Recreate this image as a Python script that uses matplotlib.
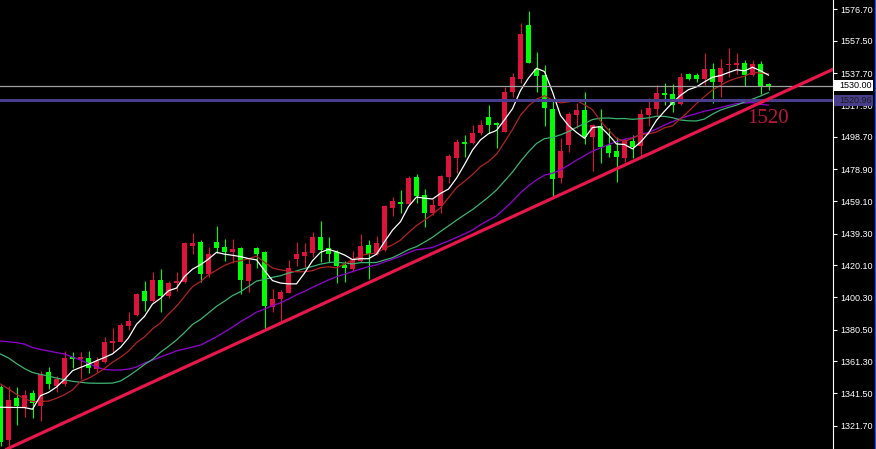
import matplotlib
matplotlib.use("Agg")
import matplotlib.pyplot as plt
import matplotlib.transforms as mtransforms
from matplotlib.patches import Rectangle
from matplotlib.lines import Line2D
import numpy as np

# ---- price data (one row per bar) ----
opens = [1345.6, 1312.9, 1338.8, 1333.0, 1341.6, 1333.8, 1354.6, 1346.0, 1347.3, 1363.4,
         1362.8, 1363.0, 1356.2, 1361.0, 1372.6, 1373.2, 1382.9, 1389.5, 1404.2, 1398.1,
         1411.0, 1401.4, 1409.3, 1409.9, 1432.0, 1434.4, 1414.6, 1434.3, 1431.4, 1427.9,
         1430.4, 1410.4, 1430.4, 1428.3, 1394.6, 1399.3, 1403.2, 1423.6, 1425.5, 1427.3,
         1437.5, 1430.4, 1427.9, 1420.2, 1417.7, 1422.6, 1432.4, 1426.9, 1429.3, 1455.3,
         1458.6, 1457.8, 1474.2, 1463.0, 1451.8, 1456.3, 1474.3, 1485.9, 1495.7, 1494.7,
         1500.9, 1510.8, 1507.0, 1501.9, 1526.3, 1534.1, 1567.2, 1540.0, 1536.6, 1515.7,
         1473.6, 1493.7, 1512.1, 1515.1, 1498.8, 1505.5, 1493.7, 1489.9, 1485.6, 1496.2,
         1493.1, 1512.1, 1515.7, 1525.7, 1524.9, 1518.8, 1537.0, 1536.6, 1534.1, 1540.0,
         1532.4, 1542.7, 1542.9, 1543.7, 1536.6, 1543.3, 1530.6]
highs = [1346.5, 1346.0, 1345.2, 1343.6, 1343.6, 1355.2, 1357.5, 1352.1, 1367.5, 1366.9,
         1366.7, 1367.5, 1364.0, 1376.2, 1381.8, 1384.9, 1391.2, 1403.2, 1410.4, 1416.0,
         1417.7, 1410.5, 1416.0, 1434.4, 1440.0, 1435.5, 1431.3, 1444.0, 1436.3, 1435.9,
         1431.0, 1423.8, 1431.3, 1429.0, 1405.3, 1404.8, 1423.0, 1434.0, 1433.5, 1440.2,
         1447.1, 1437.1, 1429.3, 1422.5, 1428.9, 1439.1, 1435.5, 1437.9, 1457.0, 1461.8,
         1465.9, 1474.8, 1475.9, 1466.6, 1460.3, 1475.3, 1488.0, 1497.4, 1499.7, 1505.9,
         1509.0, 1518.2, 1508.0, 1529.0, 1537.9, 1568.6, 1575.8, 1550.8, 1542.7, 1521.3,
         1498.2, 1514.1, 1519.4, 1526.1, 1506.4, 1515.7, 1504.1, 1498.8, 1497.8, 1499.7,
         1515.6, 1522.3, 1530.5, 1531.7, 1531.0, 1537.9, 1537.6, 1537.9, 1550.2, 1543.7,
         1546.2, 1552.9, 1549.9, 1545.8, 1545.8, 1545.3, 1531.4]
lows = [1309.5, 1308.0, 1322.1, 1327.2, 1326.2, 1324.5, 1344.2, 1342.5, 1346.2, 1357.2,
        1350.3, 1353.8, 1354.6, 1360.3, 1366.1, 1372.8, 1380.3, 1389.1, 1392.2, 1397.7,
        1391.6, 1400.1, 1404.2, 1408.9, 1426.8, 1409.9, 1412.5, 1427.3, 1422.6, 1421.6,
        1402.2, 1403.8, 1418.1, 1380.8, 1391.6, 1386.0, 1403.0, 1419.6, 1419.2, 1425.3,
        1422.2, 1422.2, 1409.3, 1409.9, 1415.6, 1422.0, 1411.6, 1426.3, 1428.9, 1450.2,
        1452.0, 1457.5, 1458.3, 1443.6, 1450.8, 1451.8, 1470.6, 1476.7, 1486.5, 1494.4,
        1499.8, 1500.9, 1492.1, 1501.5, 1523.3, 1531.5, 1543.8, 1526.3, 1505.3, 1461.8,
        1470.2, 1489.2, 1503.9, 1494.5, 1477.8, 1482.5, 1486.5, 1471.2, 1483.1, 1485.6,
        1486.7, 1505.5, 1512.1, 1518.2, 1514.1, 1518.2, 1533.5, 1532.4, 1530.4, 1519.2,
        1523.3, 1535.5, 1537.2, 1530.0, 1535.9, 1524.9, 1527.2]
closes = [1311.9, 1337.4, 1333.8, 1340.5, 1335.4, 1353.4, 1347.5, 1350.1, 1363.4, 1362.6,
          1363.4, 1356.9, 1361.3, 1373.2, 1373.8, 1383.5, 1385.9, 1402.4, 1398.1, 1411.0,
          1401.2, 1409.3, 1410.4, 1433.5, 1433.8, 1414.6, 1426.9, 1430.8, 1427.9, 1430.1,
          1411.0, 1420.8, 1426.9, 1395.0, 1399.3, 1403.6, 1418.1, 1426.9, 1427.9, 1437.5,
          1429.3, 1426.9, 1419.8, 1418.1, 1423.6, 1431.8, 1426.9, 1433.5, 1456.0, 1459.4,
          1457.7, 1473.6, 1462.5, 1452.2, 1456.9, 1474.7, 1487.1, 1495.7, 1494.1, 1501.2,
          1505.9, 1506.1, 1505.8, 1526.3, 1535.5, 1561.7, 1544.1, 1536.1, 1516.2, 1472.8,
          1490.0, 1512.7, 1515.1, 1498.4, 1505.8, 1492.3, 1488.6, 1486.4, 1496.8, 1492.3,
          1512.7, 1516.6, 1525.7, 1524.6, 1518.2, 1535.5, 1534.1, 1534.1, 1540.0, 1532.4,
          1540.6, 1543.3, 1543.7, 1536.6, 1543.3, 1530.0, 1530.0]

# ---- moving-average indicator values per bar ----
ma5 = [1333.0, 1332.9, 1332.9, 1332.8, 1331.8, 1340.1, 1342.1, 1345.4, 1350.0, 1355.4,
       1357.4, 1359.3, 1361.5, 1363.5, 1365.7, 1369.7, 1375.5, 1383.8, 1388.7, 1396.2,
       1399.7, 1404.4, 1406.0, 1413.1, 1417.6, 1420.3, 1423.8, 1427.9, 1426.8, 1426.1,
       1425.3, 1424.1, 1423.3, 1416.8, 1410.6, 1409.1, 1408.6, 1408.6, 1415.2, 1422.8,
       1427.9, 1429.7, 1428.3, 1426.3, 1423.5, 1424.0, 1424.0, 1426.8, 1434.4, 1441.5,
       1446.7, 1456.0, 1461.8, 1461.1, 1460.6, 1464.0, 1466.7, 1473.3, 1481.7, 1490.6,
       1496.8, 1500.6, 1502.6, 1509.1, 1515.9, 1527.1, 1534.7, 1540.7, 1538.7, 1526.2,
       1511.8, 1505.6, 1501.4, 1497.8, 1504.4, 1504.9, 1500.0, 1494.3, 1494.0, 1491.3,
       1495.4, 1501.0, 1508.8, 1514.4, 1519.6, 1524.1, 1527.6, 1529.3, 1532.4, 1535.2,
       1536.2, 1538.1, 1539.8, 1539.1, 1541.3, 1539.2, 1536.5]
ma10 = [1347.2, 1344.3, 1340.9, 1338.2, 1336.5, 1336.5, 1336.8, 1338.5, 1340.7, 1343.6,
        1348.8, 1350.7, 1353.5, 1356.7, 1360.6, 1363.6, 1367.4, 1372.6, 1376.1, 1381.0,
        1384.7, 1390.0, 1394.9, 1400.9, 1406.9, 1410.0, 1414.1, 1417.0, 1419.9, 1421.9,
        1422.8, 1424.0, 1425.6, 1421.8, 1418.3, 1417.2, 1416.4, 1416.0, 1416.0, 1416.7,
        1418.5, 1419.1, 1418.4, 1420.7, 1423.2, 1426.0, 1426.9, 1427.5, 1430.3, 1432.5,
        1435.4, 1440.0, 1444.3, 1447.7, 1451.1, 1455.3, 1461.4, 1467.6, 1471.4, 1475.6,
        1480.4, 1483.6, 1488.0, 1495.4, 1503.2, 1511.9, 1517.6, 1521.7, 1523.9, 1521.1,
        1519.5, 1520.1, 1521.1, 1518.3, 1515.3, 1508.4, 1502.8, 1497.8, 1495.9, 1497.8,
        1500.1, 1500.5, 1501.6, 1504.2, 1505.4, 1509.7, 1514.3, 1519.1, 1523.4, 1527.4,
        1530.2, 1532.9, 1534.6, 1535.8, 1538.3, 1537.7, 1537.3]
ma20 = [1365.6, 1363.2, 1359.8, 1356.7, 1354.3, 1353.1, 1352.1, 1350.9, 1349.8, 1348.9,
        1348.3, 1347.8, 1347.7, 1347.7, 1347.8, 1349.1, 1352.1, 1355.5, 1359.2, 1362.3,
        1366.7, 1370.3, 1374.2, 1378.8, 1383.7, 1386.8, 1390.8, 1394.8, 1398.0, 1401.4,
        1403.8, 1407.0, 1410.3, 1411.3, 1412.6, 1413.6, 1415.2, 1416.5, 1418.0, 1419.3,
        1420.7, 1421.6, 1422.0, 1421.3, 1420.8, 1421.6, 1421.6, 1421.7, 1423.2, 1424.6,
        1427.0, 1429.6, 1431.4, 1434.2, 1437.1, 1440.7, 1444.1, 1447.6, 1450.9, 1454.1,
        1457.9, 1461.8, 1466.1, 1471.6, 1477.1, 1483.6, 1489.5, 1494.6, 1497.6, 1498.3,
        1499.9, 1501.9, 1504.5, 1506.8, 1509.3, 1510.1, 1510.2, 1509.8, 1509.9, 1509.4,
        1509.8, 1510.3, 1511.3, 1511.2, 1510.4, 1509.0, 1508.5, 1508.4, 1509.6, 1512.6,
        1515.1, 1516.7, 1518.1, 1520.0, 1521.8, 1523.7, 1525.8]
ma30 = [1373.6, 1373.1, 1372.6, 1371.7, 1369.6, 1368.4, 1367.5, 1366.5, 1365.6, 1363.8,
        1361.9, 1359.8, 1357.6, 1356.1, 1355.8, 1355.8, 1356.4, 1357.6, 1360.1, 1361.9,
        1363.8, 1365.6, 1367.5, 1368.7, 1369.9, 1371.1, 1373.6, 1376.1, 1379.1, 1382.1,
        1385.4, 1388.2, 1391.3, 1393.1, 1395.3, 1396.9, 1399.3, 1401.9, 1404.0, 1406.5,
        1408.7, 1411.0, 1413.0, 1414.5, 1416.1, 1417.7, 1419.1, 1420.2, 1422.1, 1423.7,
        1425.6, 1427.7, 1429.5, 1430.1, 1430.9, 1432.9, 1434.9, 1437.0, 1439.2, 1441.6,
        1444.8, 1447.6, 1450.2, 1454.6, 1459.2, 1464.4, 1468.6, 1472.3, 1475.2, 1476.4,
        1478.4, 1481.3, 1484.4, 1487.1, 1489.9, 1491.9, 1493.9, 1495.7, 1497.1, 1498.2,
        1500.0, 1501.4, 1503.5, 1505.9, 1508.0, 1510.0, 1511.6, 1512.9, 1514.4, 1515.4,
        1516.6, 1517.8, 1519.1, 1519.4, 1519.7, 1518.6, 1518.1]

# ---- axis labels and chart objects ----
price_ticks = [1576.70, 1557.50, 1537.70, 1517.90, 1498.70, 1478.90, 1459.10,
               1439.30, 1420.10, 1400.30, 1380.50, 1361.30, 1341.50, 1321.70]
bid_price = 1530.00
level_price = 1520.96
trend_points = [(0, 1305.6), (100, 1530.9)]
trend_label = "1520"

W, H = 876, 449
fig = plt.figure(figsize=(W / 100, H / 100), dpi=100, facecolor="black")
axis_px = 832.5
ax = fig.add_axes([0, 0, axis_px / W, 1])
ax.set_facecolor("black")

n = len(closes)
idx = np.arange(n)
o = np.array(opens); c = np.array(closes)
h = np.array(highs); l = np.array(lows)
up = c >= o
UP_COLOR, DOWN_COLOR = "#DC143C", "#00FF00"
colors = np.where(up, UP_COLOR, DOWN_COLOR)

# wicks and bodies
ax.vlines(idx, l, h, colors=colors, linewidth=0.8, zorder=2)
body_low = np.minimum(o, c)
body_h = np.maximum(np.abs(c - o), 0.9)
ax.bar(idx, body_h, bottom=body_low, width=0.62, color=colors,
       linewidth=0, zorder=2.1)

# moving averages
ax.plot(idx, ma30, color="#9400D3", lw=0.9, zorder=3)
ax.plot(idx, ma20, color="#3CB371", lw=0.9, zorder=3)
ax.plot(idx, ma10, color="#B22222", lw=0.9, zorder=3)
ax.plot(idx, ma5, color="white", lw=0.9, zorder=3.2)

# horizontal levels
ax.axhline(bid_price, color="#A0A0A0", lw=0.9, zorder=3.5)
ax.axhline(level_price, color="#483D8B", lw=2.2, zorder=3.5)

# support trendline
ax.axline(trend_points[0], trend_points[1], color="#E8174B", lw=2.3, zorder=4)
ax.text(93.3, 1507.0, trend_label, color="#B8173C", fontsize=15,
        family="Liberation Serif", ha="left", va="baseline", zorder=5)

ax.set_xlim(-0.0625, (axis_px - 0.5) / 8)
ax.set_ylim(1582.52 - 0.6127 * H, 1582.52)

for side in ("top", "bottom", "left"):
    ax.spines[side].set_visible(False)
ax.spines["right"].set_color("white")
ax.spines["right"].set_linewidth(0.8)
ax.set_xticks([])
ax.yaxis.tick_right()
ax.set_yticks(price_ticks)
ax.set_yticklabels([f"{v:.2f}" for v in price_ticks])
ax.tick_params(axis="y", colors="white", length=3, width=0.8, pad=2.6,
               labelsize=6.5, labelcolor="white")
for lab in ax.get_yticklabels():
    lab.set_family("Liberation Sans")

# price tags on the axis
tr = mtransforms.blended_transform_factory(fig.transFigure, ax.transData)
half = 5.5 * 0.6127
for val, face, tc in ((bid_price, "white", "black"), (level_price, "#483D8B", "#1a1a1a")):
    ax.add_patch(Rectangle((833.5 / W, val - half), 39.0 / W, 2 * half,
                           transform=tr, facecolor=face, edgecolor="none",
                           clip_on=False, zorder=10))
    ax.text(839.0 / W, val, f"{val:.2f}", transform=tr, color=tc, fontsize=6.5,
            family="Liberation Sans", va="center", ha="left", clip_on=False, zorder=11)

# window frame on the right
fig.add_artist(Line2D([874.8 / W, 874.8 / W], [0, 1], transform=fig.transFigure,
                      color="#2850E0", lw=1.0))

fig.savefig("out.png", dpi=100, facecolor="black")
